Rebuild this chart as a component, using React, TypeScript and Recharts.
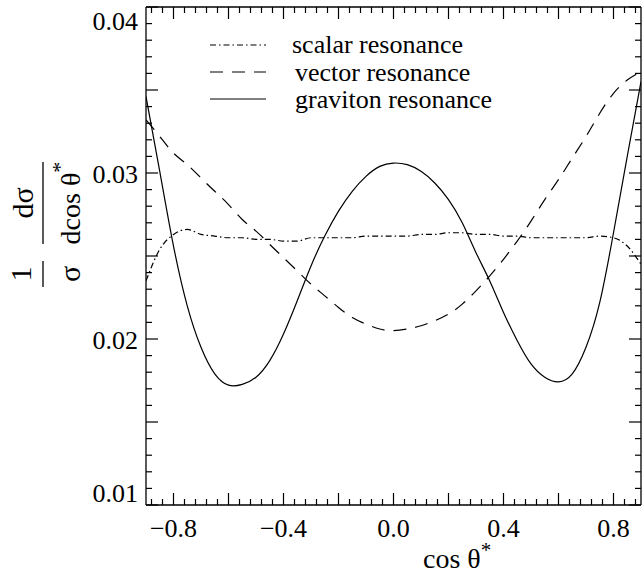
import { LineChart, Line, XAxis, YAxis, Legend } from "recharts";

// cos(theta*) sample points and the three normalised distributions
const COS_THETA = [
  -0.9, -0.85, -0.8, -0.75, -0.7, -0.65, -0.6, -0.55, -0.5, -0.45, -0.4, -0.35, -0.3,
  -0.25, -0.2, -0.15, -0.1, -0.05, 0, 0.05, 0.1, 0.15, 0.2, 0.25, 0.3, 0.35, 0.4, 0.45,
  0.5, 0.55, 0.6, 0.65, 0.7, 0.75, 0.8, 0.85, 0.9,
];

const SCALAR = [
  0.0235, 0.0254, 0.0263, 0.0266, 0.0263, 0.0262, 0.0261, 0.0261, 0.026, 0.026, 0.0259,
  0.0259, 0.0261, 0.0261, 0.0261, 0.0261, 0.0262, 0.0262, 0.0262, 0.0262, 0.0263, 0.0263,
  0.0264, 0.0264, 0.0263, 0.0263, 0.0262, 0.0262, 0.0261, 0.0261, 0.0261, 0.0261, 0.0261,
  0.0262, 0.0261, 0.0256, 0.0245,
];

const VECTOR = [
  0.0332, 0.0322, 0.0312, 0.0305, 0.0297, 0.0289, 0.0281, 0.0272, 0.0265, 0.0257, 0.0249,
  0.0241, 0.0233, 0.0226, 0.0219, 0.0213, 0.0209, 0.0206, 0.0205, 0.0206, 0.0208, 0.0211,
  0.0215, 0.0221, 0.0229, 0.0238, 0.0248, 0.0259, 0.0271, 0.0284, 0.0296, 0.0309, 0.0322,
  0.0336, 0.0348, 0.0356, 0.0361,
];

const GRAVITON = [
  0.0346, 0.0301, 0.0256, 0.022, 0.0195, 0.0179, 0.01722, 0.01727, 0.0177, 0.0187, 0.0203,
  0.0223, 0.0244, 0.0262, 0.0277, 0.0289, 0.0298, 0.0304, 0.0306, 0.0305, 0.0301, 0.0294,
  0.0284, 0.027, 0.0252, 0.0235, 0.0216, 0.0199, 0.0185, 0.0177, 0.01742, 0.0179, 0.0195,
  0.0222, 0.0264, 0.031, 0.0355,
];

const X_LABELS = [-0.8, -0.4, 0, 0.4, 0.8];
const Y_LABELS = [0.01, 0.02, 0.03, 0.04];

const range = (from: number, to: number, step: number, dp: number) => {
  const out: number[] = [];
  for (let v = from; v <= to + step / 2; v += step) out.push(Number(v.toFixed(dp)));
  return out;
};
const X_TICKS = range(-0.88, 0.88, 0.04, 2);
const Y_TICKS = range(0.01, 0.04, 0.001, 3);

const data = COS_THETA.map((c, i) => ({
  c,
  scalar: SCALAR[i],
  vector: VECTOR[i],
  graviton: GRAVITON[i],
}));

const SERIES = [
  { key: "scalar", name: "scalar resonance", dash: "6 3 1.5 3", curve: "monotone" },
  { key: "vector", name: "vector resonance", dash: "13 9", curve: "natural" },
  { key: "graviton", name: "graviton resonance", dash: undefined, curve: "natural" },
];

const FONT = "'Liberation Serif', 'Times New Roman', Times, serif";
const INK = "#000";
const serif = { fontFamily: FONT };

const isMult = (v: number, step: number) => Math.abs(Math.round(v / step) * step - v) < 1e-6;
const fmtX = (v: number) => (Math.abs(v) < 1e-9 ? "0.0" : (v < 0 ? "\u2212" : "") + Math.abs(v).toFixed(1));

const BottomTick = ({ x, y, payload }: any) => {
  const v = payload.value;
  const len = isMult(v, 0.2) ? 12 : 6;
  const labeled = X_LABELS.some((l) => Math.abs(l - v) < 1e-6);
  return (
    <g>
      <line x1={x} x2={x} y1={y} y2={y - len} stroke={INK} strokeWidth={1.2} />
      {labeled && (
        <text x={x} y={y + 32} textAnchor="middle" style={serif} fontSize={26} fill={INK}>
          {fmtX(v)}
        </text>
      )}
    </g>
  );
};

const TopTick = ({ x, y, payload }: any) => {
  const len = isMult(payload.value, 0.2) ? 12 : 6;
  return <line x1={x} x2={x} y1={y} y2={y + len} stroke={INK} strokeWidth={1.2} />;
};

const LeftTick = ({ x, y, payload }: any) => {
  const v = payload.value;
  const len = isMult(v, 0.005) ? 12 : 6;
  const labeled = Y_LABELS.some((l) => Math.abs(l - v) < 1e-7);
  let dy = 10;
  if (Math.abs(v - 0.04) < 1e-7) dy = 23;
  if (Math.abs(v - 0.01) < 1e-7) dy = -3;
  return (
    <g>
      <line x1={x} x2={x + len} y1={y} y2={y} stroke={INK} strokeWidth={1.2} />
      {labeled && (
        <text x={x - 8} y={y + dy} textAnchor="end" style={serif} fontSize={26} fill={INK}>
          {v.toFixed(2)}
        </text>
      )}
    </g>
  );
};

const RightTick = ({ x, y, payload }: any) => {
  const len = isMult(payload.value, 0.005) ? 12 : 6;
  return <line x1={x} x2={x - len} y1={y} y2={y} stroke={INK} strokeWidth={1.2} />;
};

const YTitle = () => (
  <g style={serif} fill={INK}>
    <line x1={43} x2={43} y1={162} y2={244} stroke={INK} strokeWidth={1.3} />
    <line x1={43} x2={43} y1={261} y2={287} stroke={INK} strokeWidth={1.3} />
    <g transform="rotate(-90)">
      <text x={-203} y={33} textAnchor="middle" fontSize={30} style={serif}>d{"\u03c3"}</text>
      <text x={-203} y={80} textAnchor="middle" fontSize={28} style={serif}>
        dcos {"\u03b8"}
        <tspan fontSize={22} dy={-13}>*</tspan>
      </text>
      <text x={-274} y={31} textAnchor="middle" fontSize={30} style={serif}>1</text>
      <text x={-274} y={80} textAnchor="middle" fontSize={30} style={serif}>{"\u03c3"}</text>
    </g>
  </g>
);

const XTitle = () => (
  <text x={423} y={568} style={serif} fontSize={28} fill={INK}>
    cos {"\u03b8"}
    <tspan fontSize={21} dy={-11}>*</tspan>
  </text>
);

const LegendBox = () => (
  <svg width={380} height={100} style={{ overflow: "visible", display: "block" }}>
    {SERIES.map((s, i) => (
      <g key={s.key}>
        <line x1={10} x2={66} y1={25 + i * 27} y2={25 + i * 27} stroke={INK} strokeWidth={1.2} strokeDasharray={s.dash} />
        <text x={i === 0 ? 92 : 95} y={33 + i * 27.5} style={serif} fontSize={26} fill={INK}>
          {s.name}
        </text>
      </g>
    ))}
  </svg>
);

export default function App() {
  return (
    <div style={{ position: "absolute", left: 0, top: 0, background: "#fff", fontFamily: FONT }}>
      <LineChart width={642} height={575} data={data} margin={{ top: 6, right: 0, bottom: 0, left: 0 }}>
        <XAxis
          xAxisId="b"
          dataKey="c"
          type="number"
          domain={[-0.9, 0.9]}
          ticks={X_TICKS}
          interval={0}
          tickSize={0}
          tickMargin={0}
          height={70}
          axisLine={{ stroke: INK, strokeWidth: 1.3 }}
          tickLine={false}
          tick={(p: any) => <BottomTick {...p} />}
          label={<XTitle />}
          allowDataOverflow
        />
        <XAxis
          xAxisId="t"
          orientation="top"
          dataKey="c"
          type="number"
          domain={[-0.9, 0.9]}
          ticks={X_TICKS}
          interval={0}
          tickSize={0}
          tickMargin={0}
          height={1}
          axisLine={{ stroke: INK, strokeWidth: 1.3 }}
          tickLine={false}
          tick={(p: any) => <TopTick {...p} />}
          allowDataOverflow
        />
        <YAxis
          yAxisId="l"
          type="number"
          domain={[0.01, 0.04]}
          ticks={Y_TICKS}
          interval={0}
          tickSize={0}
          tickMargin={0}
          width={146}
          axisLine={{ stroke: INK, strokeWidth: 1.3 }}
          tickLine={false}
          tick={(p: any) => <LeftTick {...p} />}
          label={<YTitle />}
          allowDataOverflow
        />
        <YAxis
          yAxisId="r"
          orientation="right"
          type="number"
          domain={[0.01, 0.04]}
          ticks={Y_TICKS}
          interval={0}
          tickSize={0}
          tickMargin={0}
          width={1}
          axisLine={{ stroke: INK, strokeWidth: 1.3 }}
          tickLine={false}
          tick={(p: any) => <RightTick {...p} />}
          allowDataOverflow
        />
        <Legend
          layout="horizontal"
          verticalAlign="middle"
          align="center"
          content={() => <LegendBox />}
          wrapperStyle={{ left: 200, top: 20, width: 380, height: 100 }}
        />
        {SERIES.map((s) => (
          <Line
            key={s.key}
            xAxisId="b"
            yAxisId="l"
            dataKey={s.key}
            name={s.name}
            type={s.curve as any}
            stroke={INK}
            strokeWidth={1.2}
            strokeDasharray={s.dash}
            dot={false}
            activeDot={false}
            isAnimationActive={false}
          />
        ))}
      </LineChart>
    </div>
  );
}
